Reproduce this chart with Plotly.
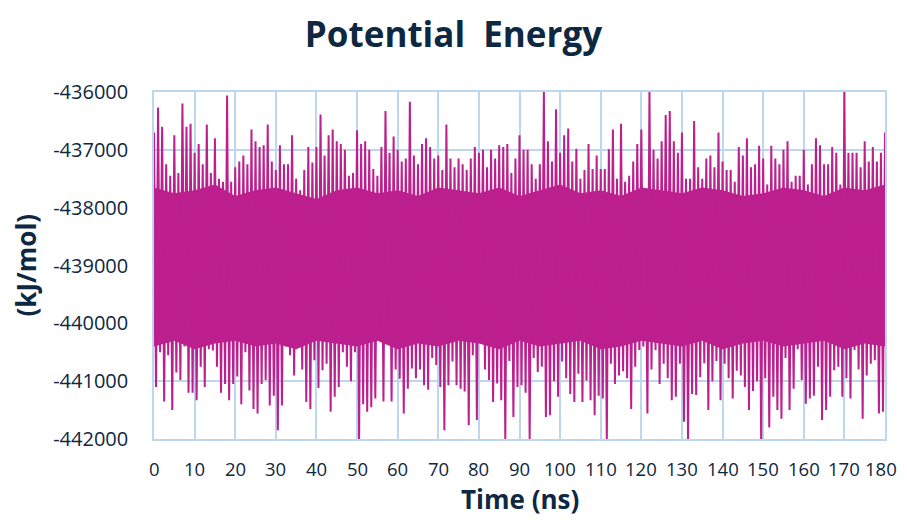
import plotly.graph_objects as go

# Peak (upper) and trough (lower) energies read per ns from the reference, t = 0..180 ns
upper_peaks = [
    -436700, -436270, -436600, -437250, -437450, -436750, -437400, -436200, -436600, -436550,
    -437050, -436900, -437250, -436560, -437400, -436800, -437500, -437550, -436060, -437550,
    -437300, -437200, -437100, -437250, -436650, -436850, -436950, -436920, -436560, -437200,
    -437350, -436920, -437250, -437250, -436750, -437500, -437700, -437350, -436950, -437220,
    -436950, -436390, -437100, -436750, -436650, -436850, -436900, -437000, -437450, -437400,
    -436660, -436900, -436850, -437000, -437330, -437450, -436950, -436330, -437050, -436770,
    -437000, -437200, -437150, -436170, -437100, -437250, -436900, -436800, -436950, -437150,
    -437100, -437350, -436560, -437150, -437300, -437150, -437250, -437350, -437150, -436950,
    -437050, -437000, -437300, -437000, -437150, -436920, -436950, -436900, -437400, -437150,
    -436750, -437000, -437000, -437250, -437500, -437250, -436000, -436850, -437200, -436300,
    -437050, -436750, -436630, -437200, -436980, -437500, -437350, -436900, -437330, -437100,
    -437330, -437330, -436990, -436650, -437500, -436550, -437550, -437450, -437200, -436900,
    -436650, -437750, -436000, -437000, -437150, -436850, -436400, -436330, -436850, -437050,
    -436700, -437500, -437500, -436500, -437300, -437500, -437150, -437100, -437300, -436700,
    -437200, -437350, -437350, -437550, -436950, -437100, -436800, -437300, -437250, -436930,
    -437150, -437600, -436930, -437150, -437250, -437000, -436850, -437550, -437450, -437450,
    -437000, -437600, -437250, -436800, -436920, -437250, -437250, -436950, -437050, -437600,
    -436000, -437050, -437050, -437050, -437300, -436850, -437200, -436950, -437200, -437050,
    -436700,
]
lower_troughs = [
    -441100, -440500, -441350, -440550, -441500, -440850, -440980, -440400, -441200, -441200,
    -441330, -440750, -441100, -440450, -440470, -440750, -441200, -441050, -441330, -441050,
    -440920, -441400, -440500, -441160, -441480, -441560, -441050, -440980, -441420, -441250,
    -441850, -441420, -440400, -440550, -440900, -440350, -440800, -441360, -441480, -440640,
    -441120, -440810, -440700, -441530, -441270, -441100, -440500, -440750, -441000, -440500,
    -442020, -441400, -441530, -441450, -441300, -440300, -441350, -440280, -441350, -440800,
    -440960, -441560, -441130, -440780, -440950, -440800, -441070, -441150, -440600, -440720,
    -441100, -441850, -441070, -440660, -441070, -441130, -441180, -441760, -440550, -441670,
    -440200, -440800, -440980, -441360, -441040, -441330, -442020, -440650, -441620, -441100,
    -441070, -441200, -442000, -440600, -440840, -440750, -441620, -441590, -441000, -441270,
    -440660, -440950, -441220, -441360, -440870, -441360, -440990, -441330, -441590, -441250,
    -441300, -442050, -440700, -441050, -440900, -440830, -440950, -441480, -440750, -440460,
    -440400, -441560, -440800, -440460, -441050, -440700, -440950, -441330, -441270, -440700,
    -441700, -442050, -441220, -441240, -440930, -440690, -441500, -441000, -440650, -441330,
    -440700, -440950, -441300, -440820, -440900, -441100, -441500, -441170, -441000, -442050,
    -440950, -441800, -441270, -441500, -441650, -440600, -441500, -441130, -440450, -440980,
    -441390, -441300, -441250, -440750, -441670, -441500, -441270, -440810, -440750, -441270,
    -440950, -441300, -440460, -440800, -441650, -440900, -440700, -440640, -441560, -441530,
    -441440,
]
time_ns = list(range(0, 181))

# Edges of the solid (densely over-plotted) core band, read every 5 ns
core_time = list(range(0, 181, 5))
core_top = [
    -437650, -437750, -437700, -437600, -437800, -437700, -437650, -437750, -437850, -437700,
    -437650, -437750, -437700, -437800, -437650, -437700, -437750, -437650, -437800, -437700,
    -437600, -437750, -437700, -437800, -437650, -437700, -437750, -437650, -437700, -437800,
    -437750, -437650, -437700, -437800, -437650, -437700, -437600,
]
core_bottom = [
    -440400, -440300, -440450, -440350, -440300, -440400, -440350, -440450, -440300, -440350,
    -440400, -440300, -440450, -440350, -440400, -440300, -440350, -440450, -440300, -440400,
    -440350, -440300, -440450, -440400, -440300, -440350, -440400, -440300, -440450, -440350,
    -440300, -440400, -440350, -440300, -440450, -440350, -440400,
]

y_ticks = [-436000, -437000, -438000, -439000, -440000, -441000, -442000]
x_ticks = list(range(0, 181, 10))
title_text = "Potential\u00a0 Energy"
x_title = "Time (ns)"
y_title = "(kJ/mol)"

# interleave peaks and troughs into one time series
xs, ys = [], []
for t, hi, lo in zip(time_ns, upper_peaks, lower_troughs):
    xs += [t, t + 0.5]
    ys += [hi, lo]

navy = "#0E2841"
grid = "#BDD7EE"
magenta = "#BC1F8E"
font_family = "Open Sans, Lato, Liberation Sans, sans-serif"

fig = go.Figure()
fig.add_trace(go.Scatter(
    x=core_time, y=core_bottom, mode="lines", line=dict(width=0, color=magenta),
    showlegend=False, hoverinfo="skip",
))
fig.add_trace(go.Scatter(
    x=core_time, y=core_top, mode="lines", line=dict(width=0, color=magenta),
    fill="tonexty", fillcolor=magenta, showlegend=False, hoverinfo="skip",
))
fig.add_trace(go.Scatter(
    x=xs, y=ys, mode="lines",
    line=dict(color=magenta, width=2),
    showlegend=False, hoverinfo="skip",
))

# x tick labels drawn as annotations so the last one ("180") is not auto-hidden
annotations = [
    dict(x=v, xref="x", y=0, yref="paper", text=str(v), showarrow=False,
         xanchor="center", yanchor="middle", yshift=-29,
         xshift=(-4 if v == x_ticks[-1] else 0),
         font=dict(size=18.5, color=navy, family=font_family))
    for v in x_ticks
]
annotations.append(dict(
    x=0.5, xref="paper", y=0, yref="paper", text=x_title, showarrow=False,
    xanchor="center", yanchor="middle", yshift=-60,
    font=dict(size=26, color=navy, family=font_family, weight="bold"),
))
annotations.append(dict(
    x=0, xref="paper", y=0.5, yref="paper", text=y_title, showarrow=False,
    xanchor="center", yanchor="middle", xshift=-129, textangle=-90,
    font=dict(size=26, color=navy, family=font_family, weight="bold"),
))

fig.update_layout(
    width=891, height=510,
    margin=dict(l=146, r=14, t=84, b=79),
    paper_bgcolor="white", plot_bgcolor="white",
    title=dict(
        text=title_text,
        x=0.5, xref="container", xanchor="center",
        y=1 - 27 / 510, yref="container", yanchor="middle",
        font=dict(family=font_family, size=35, color=navy, weight="bold"),
    ),
    font=dict(family=font_family, color=navy),
    annotations=annotations,
)
fig.update_xaxes(
    range=[0, 180], tickvals=x_ticks, showticklabels=False,
    showgrid=True, gridcolor=grid, gridwidth=1.5,
    showline=True, linecolor=grid, linewidth=1.5, mirror=True,
    zeroline=False, ticks="",
)
fig.update_yaxes(
    range=[-442000, -436000], tickvals=y_ticks, ticktext=[str(v) for v in y_ticks],
    showgrid=True, gridcolor=grid, gridwidth=1.5,
    showline=True, linecolor=grid, linewidth=1.5, mirror=True,
    zeroline=False, ticks="", ticklabelstandoff=20,
    tickfont=dict(size=20, color=navy, family=font_family),
)

fig.write_html("out.html")
